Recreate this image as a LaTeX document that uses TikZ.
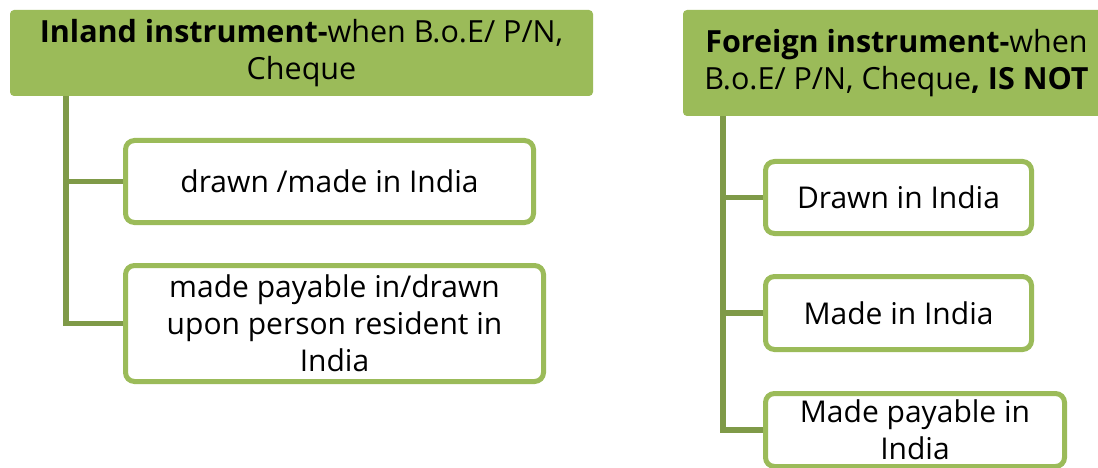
\documentclass[tikz,border=0pt]{standalone}
\usepackage{fontspec}
\setmainfont{Open Sans}
\definecolor{olive}{HTML}{9BBB59}
\definecolor{olivedark}{HTML}{7F9A48}
\tikzset{
  header/.style={fill=olive, draw=none, rounded corners=4pt, align=center,
    inner sep=0pt, font=\fontsize{30.5}{37}\selectfont},
  leaf/.style={draw=olive, fill=white, line width=5pt, rounded corners=9pt,
    align=center, inner sep=0pt, font=\fontsize{30}{37}\selectfont},
  conn/.style={draw=olivedark, line width=5.5pt}
}
\begin{document}
\begin{tikzpicture}[x=1pt,y=-1pt]
\useasboundingbox (0,0) rectangle (1098,468);

% left tree
\node[header, minimum width=583pt, minimum height=86pt] (hdrL) at (301.5,53)
  {\textbf{Inland instrument-}when B.o.E/ P/N,\\Cheque};
\node[leaf, minimum width=408pt, minimum height=82pt] (b1L) at (329.5,181.5)
  {drawn /made in India};
\node[leaf, minimum width=418pt, minimum height=116pt] (b2L) at (334.5,323.5)
  {made payable in/drawn\\upon person resident in\\India};
\coordinate (tL) at (66,96);
\draw[conn] (tL) |- (b2L.west);
\draw[conn] (b1L.west) -- (b1L.west -| tL);

% right tree
\node[header, minimum width=427pt, minimum height=106pt] (hdrR) at (896.5,63)
  {\textbf{Foreign instrument-}when\\B.o.E/ P/N, Cheque\textbf{, IS NOT}};
\node[leaf, minimum width=266pt, minimum height=72pt] (b1R) at (898.5,197.5)
  {Drawn in India};
\node[leaf, minimum width=266pt, minimum height=73pt] (b2R) at (898.5,313)
  {Made in India};
\node[leaf, minimum width=299pt, minimum height=73pt] (b3R) at (915,430)
  {Made payable in\\India};
\coordinate (tR) at (723,116);
\draw[conn] (tR) |- (b3R.west);
\draw[conn] (b1R.west) -- (b1R.west -| tR);
\draw[conn] (b2R.west) -- (b2R.west -| tR);
\end{tikzpicture}
\end{document}
